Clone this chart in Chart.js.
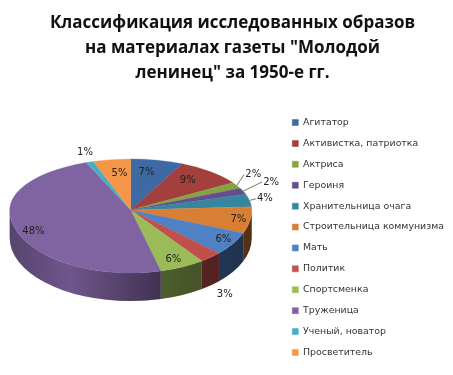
<!DOCTYPE html>
<html>
<head>
<meta charset="utf-8">
<style>
    html, body { margin: 0; padding: 0; background: #fff; }
    #wrap { width: 453px; height: 375px; }
</style>
<script src="https://cdn.jsdelivr.net/npm/chart.js@4"></script>
</head>
<body>
<div id="wrap"><canvas id="pieChart" width="453" height="375"></canvas></div>
<script>
const categories = ['Агитатор', 'Активистка, патриотка', 'Актриса', 'Героиня', 'Хранительница очага',
    'Строительница коммунизма', 'Мать', 'Политик', 'Спортсменка', 'Труженица', 'Ученый, новатор', 'Просветитель']
const percents = [7, 9, 2, 2, 4, 7, 6, 3, 6, 48, 1, 5]
const sliceColors = ['#3d6aa3', '#a33f3c', '#86a343', '#664e8c', '#34879f', '#d97f35',
    '#4f81c4', '#c0504d', '#9bbb59', '#8064a2', '#4bacc6', '#f79646']
const titleLines = ['Классификация исследованных образов', 'на материалах газеты "Молодой', 'ленинец" за 1950-е гг.']

// label nudges from the default spot inside each slice, px
const labelNudge = [[-4, 0], [-3, -1], [43, -17], [56, -14], [45, -4], [18, 2], [16, 4], [34, 49], [4, 7], [-11, 7], [-15, -22], [3, 1]]
// slices whose label sits outside with a leader line
const leaderSlices = [2, 3, 4]

// the flattened pie, upper half is squashed a bit more than the lower one
const pie3d = { cx: 130.7, cy: 210, rx: 121, ryTop: 51, ryBottom: 63, depth: 28 }

const sideShade = (ctx) => {
    const grad = ctx.createLinearGradient(pie3d.cx - pie3d.rx, 0, pie3d.cx + pie3d.rx, 0)
    grad.addColorStop(0, 'rgba(0,0,0,0.32)')
    grad.addColorStop(0.25, 'rgba(0,0,0,0.14)')
    grad.addColorStop(0.63, 'rgba(0,0,0,0.5)')
    grad.addColorStop(1, 'rgba(0,0,0,0.62)')
    return grad
}

const drawSides = (ctx, arcs) => {
    const { cx, cy, rx, ryBottom, depth } = pie3d
    const shade = sideShade(ctx)
    arcs.forEach((el, i) => {
        const a = Math.max(el.startAngle, 0)
        const b = Math.min(el.endAngle, Math.PI)
        if (b <= a) return
        ctx.beginPath()
        ctx.ellipse(cx, cy, rx, ryBottom, 0, a, b)
        ctx.ellipse(cx, cy + depth, rx, ryBottom, 0, b, a, true)
        ctx.closePath()
        ctx.fillStyle = sliceColors[i]
        ctx.fill()
        ctx.fillStyle = shade
        ctx.fill()
    })
}

const drawFaces = (chart, ctx, arcs) => {
    const { cx, cy, rx, ryTop, ryBottom } = pie3d
    const first = arcs[0]
    const halves = [[0, cy, ryTop], [cy, chart.height - cy, ryBottom]]
    halves.forEach(([top, height, ry]) => {
        ctx.save()
        ctx.beginPath()
        ctx.rect(0, top, chart.width, height)
        ctx.clip()
        ctx.translate(cx, cy)
        ctx.scale(rx / first.outerRadius, ry / first.outerRadius)
        ctx.translate(-first.x, -first.y)
        arcs.forEach(el => el.draw(ctx))
        ctx.restore()
    })
}

const drawLabels = (ctx, arcs) => {
    const { cx, cy, rx, ryTop, ryBottom } = pie3d
    ctx.font = '10px "DejaVu Sans"'
    ctx.textAlign = 'center'
    ctx.textBaseline = 'middle'
    arcs.forEach((el, i) => {
        const mid = (el.startAngle + el.endAngle) / 2
        const ry = Math.sin(mid) < 0 ? ryTop : ryBottom
        const lx = cx + 0.75 * rx * Math.cos(mid) + labelNudge[i][0]
        const ly = cy + 0.75 * ry * Math.sin(mid) + labelNudge[i][1]
        if (leaderSlices.includes(i)) {
            ctx.strokeStyle = '#6b7a5a'
            ctx.lineWidth = 1
            ctx.beginPath()
            ctx.moveTo(cx + rx * Math.cos(mid), cy + ry * Math.sin(mid))
            ctx.lineTo(lx - 9, ly)
            ctx.stroke()
        }
        ctx.fillStyle = '#222'
        ctx.fillText(percents[i] + '%', lx, ly)
    })
}

const pie3dPlugin = {
    id: 'pie3d',
    beforeDatasetDraw(chart, args) {
        const ctx = chart.ctx
        const arcs = args.meta.data
        drawSides(ctx, arcs)
        drawFaces(chart, ctx, arcs)
        drawLabels(ctx, arcs)
        return false
    }
}

new Chart(document.getElementById('pieChart'), {
    type: 'pie',
    plugins: [pie3dPlugin],
    data: {
        labels: categories,
        datasets: [{
            data: percents,
            backgroundColor: sliceColors,
            borderColor: sliceColors,
            borderWidth: 0.5,
        }]
    },
    options: {
        responsive: false,
        animation: false,
        layout: { padding: { left: 11, right: -1, top: 11, bottom: 0 } },
        plugins: {
            tooltip: { enabled: false },
            title: {
                display: true,
                text: titleLines,
                color: '#111',
                font: { family: '"Open Sans"', size: 17, weight: 'bold', lineHeight: 1.47 },
                padding: { top: 0, bottom: 14 },
            },
            legend: {
                position: 'right',
                fullSize: false,
                labels: {
                    boxWidth: 6,
                    boxHeight: 6,
                    padding: 11.5,
                    color: '#333',
                    font: { family: '"DejaVu Sans"', size: 9.4 },
                },
            },
        },
    },
})
</script>
</body>
</html>
